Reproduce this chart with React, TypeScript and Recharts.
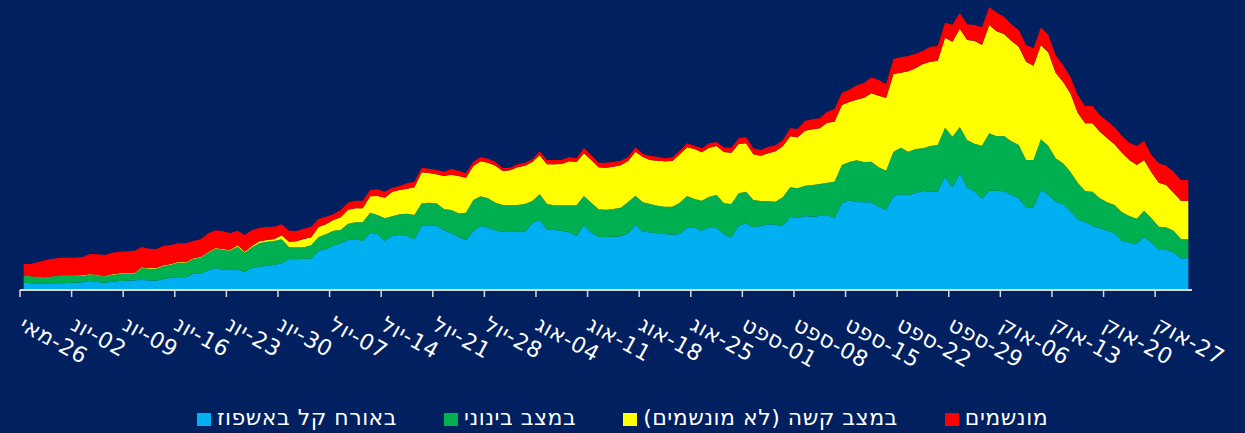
import React from 'react';
import { AreaChart, Area, XAxis, YAxis, Legend } from 'recharts';

const FONT = "'DejaVu Sans', sans-serif";

const tickLabels = [
  '26-מאי', '02-יונ', '09-יונ', '16-יונ', '23-יונ', '30-יונ',
  '07-יול', '14-יול', '21-יול', '28-יול',
  '04-אוג', '11-אוג', '18-אוג', '25-אוג',
  '01-ספט', '08-ספט', '15-ספט', '22-ספט', '29-ספט',
  '06-אוק', '13-אוק', '20-אוק', '27-אוק',
];

// daily values, 26 May .. 31 Oct
const mild = [
  73, 67, 63, 63, 67, 67, 70, 73, 77, 90,
  80, 73, 83, 90, 93, 97, 100, 97, 93, 110,
  123, 127, 127, 163, 163, 195, 220, 203, 203, 203,
  183, 220, 233, 243, 253, 267, 310, 307, 313, 313,
  393, 407, 443, 467, 500, 507, 490, 573, 557, 493,
  543, 550, 540, 507, 643, 643, 643, 597, 567, 533,
  497, 590, 640, 623, 597, 583, 580, 583, 583, 667,
  703, 603, 600, 593, 577, 540, 647, 573, 533, 530,
  533, 537, 567, 653, 583, 577, 567, 560, 553, 560,
  623, 623, 593, 627, 617, 560, 523, 643, 667, 627,
  640, 657, 653, 640, 733, 717, 740, 733, 740, 750,
  717, 867, 897, 880, 877, 877, 833, 803, 940, 957,
  950, 970, 990, 983, 983, 1133, 1027, 1167, 1023, 987,
  910, 993, 993, 987, 953, 917, 827, 827, 1000, 953,
  883, 860, 790, 703, 683, 640, 617, 593, 567, 493,
  473, 460, 533, 473, 400, 400, 377, 317, 317,
];

const moderate = [
  67, 67, 64, 61, 67, 77, 74, 71, 64, 64,
  64, 61, 68, 71, 68, 64, 119, 115, 119, 129,
  129, 148, 142, 146, 159, 175, 193, 200, 190, 230,
  190, 207, 237, 240, 237, 240, 117, 120, 114, 134,
  137, 150, 150, 133, 163, 170, 187, 200, 193, 224,
  194, 207, 223, 243, 224, 230, 224, 213, 233, 234,
  276, 310, 297, 294, 276, 267, 270, 267, 277, 223,
  257, 257, 247, 254, 270, 307, 293, 300, 274, 273,
  277, 286, 313, 290, 294, 283, 276, 273, 280, 313,
  317, 287, 300, 306, 333, 307, 337, 324, 316, 273,
  250, 233, 230, 290, 294, 300, 303, 317, 320, 323,
  366, 383, 383, 417, 403, 406, 394, 390, 443, 466,
  433, 440, 427, 457, 467, 490, 506, 463, 477, 476,
  533, 574, 545, 553, 534, 533, 473, 473, 507, 490,
  434, 407, 393, 370, 307, 343, 300, 284, 283, 284,
  267, 253, 260, 244, 233, 227, 216, 193, 190,
];

const severe = [
  3, 3, 3, 3, 3, 3, 3, 3, 6, 6,
  6, 6, 6, 6, 6, 6, 8, 8, 8, 8,
  8, 8, 8, 8, 8, 8, 7, 7, 7, 14,
  10, 16, 17, 17, 20, 40, 56, 60, 83, 80,
  100, 100, 107, 127, 140, 140, 140, 164, 190, 206,
  246, 243, 250, 277, 310, 297, 290, 330, 353, 373,
  350, 340, 350, 356, 370, 340, 347, 377, 383, 390,
  387, 397, 410, 413, 440, 433, 427, 427, 420, 420,
  423, 424, 410, 440, 453, 440, 450, 454, 457, 484,
  487, 500, 484, 490, 490, 513, 513, 493, 484, 457,
  453, 477, 504, 510, 510, 510, 550, 557, 557, 600,
  600, 600, 600, 606, 643, 684, 716, 730, 777, 750,
  804, 807, 843, 843, 843, 900, 950, 983, 1000, 1030,
  1007, 1083, 1050, 1020, 1003, 983, 983, 943, 943, 934,
  856, 816, 784, 700, 677, 684, 666, 640, 607, 596,
  560, 537, 507, 460, 440, 423, 380, 383, 383,
];

const ventilated = [
  117, 123, 150, 173, 176, 176, 176, 176, 183, 200,
  207, 210, 216, 216, 220, 223, 203, 193, 190, 196,
  190, 184, 190, 173, 177, 187, 177, 180, 167, 146,
  167, 157, 136, 130, 123, 110, 110, 103, 103, 106,
  80, 76, 57, 73, 70, 76, 76, 63, 67, 60,
  40, 40, 54, 56, 46, 43, 43, 43, 57, 53,
  44, 43, 43, 40, 40, 27, 26, 30, 30, 27,
  40, 43, 43, 40, 43, 37, 53, 50, 46, 50,
  47, 46, 40, 44, 33, 40, 40, 30, 37, 36,
  40, 33, 40, 44, 40, 47, 50, 57, 60, 60,
  57, 63, 60, 60, 80, 83, 100, 100, 100, 110,
  127, 123, 123, 144, 147, 160, 157, 137, 150, 154,
  153, 146, 133, 150, 147, 150, 170, 157, 157, 157,
  177, 177, 187, 173, 167, 167, 167, 174, 177, 176,
  177, 167, 166, 177, 173, 173, 167, 173, 170, 167,
  173, 190, 190, 173, 194, 193, 210, 207, 210,
];

const series = [
  { key: 'mild', name: 'באורח קל באשפוז', color: '#00B0F0' },
  { key: 'moderate', name: 'במצב בינוני', color: '#00B050' },
  { key: 'severe', name: 'במצב קשה (לא מונשמים)', color: '#FFFF00' },
  { key: 'ventilated', name: 'מונשמים', color: '#FF0000' },
];

const data = mild.map((v, i) => ({
  day: i,
  mild: v,
  moderate: moderate[i],
  severe: severe[i],
  ventilated: ventilated[i],
}));

// weekly ticks sit on day boundaries
const tickPositions = tickLabels.map((_, k) => k * 7 - 0.5);

function DateTick(props: any) {
  const { x, y, payload } = props;
  const label = tickLabels[Math.round((payload.value + 0.5) / 7)];
  const tx = x - 2;
  const ty = y + 30;
  return (
    <text
      x={tx}
      y={ty}
      transform={`rotate(29 ${tx} ${ty})`}
      fill="#FFFFFF"
      fontSize={22}
      letterSpacing={0.5}
      fontFamily={FONT}
      textAnchor="start"
    >
      {'\u200F' + label}
    </text>
  );
}

const renderLegend = () => (
  <div
    style={{
      display: 'flex',
      justifyContent: 'center',
      alignItems: 'center',
      gap: 47,
      fontFamily: FONT,
      fontSize: 22,
      letterSpacing: 0.5,
      lineHeight: '24px',
      color: '#FFFFFF',
    }}
  >
    {series.map((s) => (
      <div key={s.key} style={{ display: 'flex', alignItems: 'center' }}>
        <span
          style={{
            display: 'inline-block',
            width: 14,
            height: 13,
            background: s.color,
            marginRight: 6,
            marginTop: 3,
          }}
        />
        <span dir="rtl">{s.name}</span>
      </div>
    ))}
  </div>
);

export default function App() {
  return (
    <div
      style={{
        position: 'absolute',
        left: 0,
        top: 0,
        width: 1245,
        height: 433,
        background: '#002060',
      }}
    >
      <AreaChart
        width={1245}
        height={433}
        data={data}
        margin={{ top: 0, right: 53, bottom: 0, left: 20 }}
      >
        <XAxis
          dataKey="day"
          type="number"
          domain={[-0.5, 158.5]}
          ticks={tickPositions}
          interval={0}
          allowDataOverflow
          height={143}
          axisLine={{ stroke: '#D9D9D9', strokeWidth: 2 }}
          tickLine={{ stroke: '#D9D9D9', strokeWidth: 1.5 }}
          tickSize={7}
          tick={<DateTick />}
        />
        <YAxis hide type="number" domain={[0, 2900]} allowDataOverflow />
        {series.map((s) => (
          <Area
            key={s.key}
            type="linear"
            dataKey={s.key}
            name={s.name}
            stackId="1"
            stroke="none"
            fill={s.color}
            fillOpacity={1}
            isAnimationActive={false}
          />
        ))}
        <Legend
          layout="horizontal"
          verticalAlign="middle"
          align="center"
          content={renderLegend}
          wrapperStyle={{ left: 0, top: 406, width: 1245 }}
        />
      </AreaChart>
    </div>
  );
}
